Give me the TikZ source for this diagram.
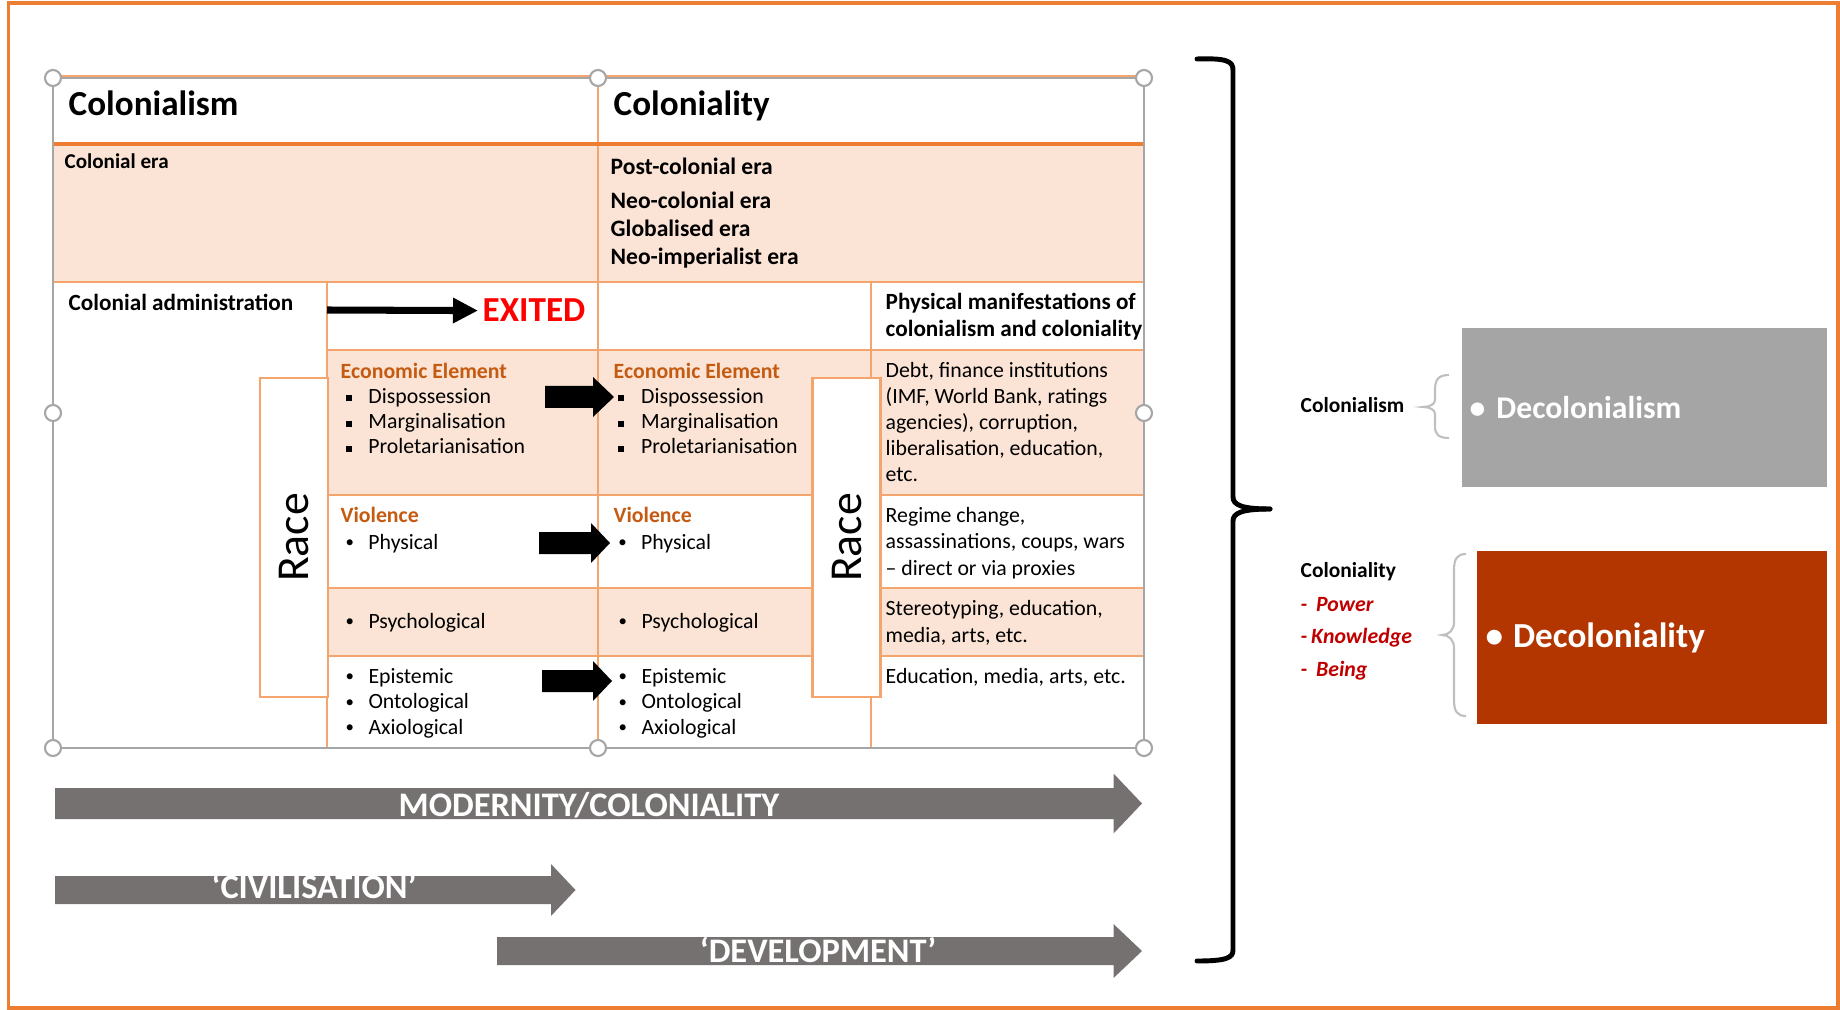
\documentclass[tikz,border=0pt]{standalone}
\usepackage{fontspec}
\setmainfont{Carlito}
\usepackage{tikz}
\usetikzlibrary{arrows.meta}
\definecolor{frameorange}{HTML}{ED7D31}
\definecolor{gridorange}{HTML}{F4A56E}
\definecolor{cellpeach}{HTML}{FBE4D5}
\definecolor{headorange}{HTML}{C55A11}
\definecolor{handlegray}{HTML}{A6A6A6}
\definecolor{arrowgray}{HTML}{767171}
\definecolor{boxgray}{HTML}{A5A5A5}
\definecolor{boxred}{HTML}{B33500}
\definecolor{exitred}{HTML}{FF0000}
\definecolor{axisred}{HTML}{C00000}
\definecolor{bracegray}{HTML}{BFBFBF}
\newcommand{\sqbul}{\makebox[6.5pt][l]{\rule[0.65pt]{1.7pt}{1.7pt}}}
\newcommand{\dotbul}{\makebox[6.5pt][l]{\raisebox{0.4pt}{\fontsize{4.8}{5}\selectfont\textbullet}}}

\begin{document}
\begin{tikzpicture}[x=0.1mm, y=-0.1mm,
  grid/.style={draw=gridorange, line width=0.6pt},
  handle/.style={circle, draw=handlegray, line width=0.6pt, fill=white, minimum size=1.6mm, inner sep=0pt},
  racebox/.style={draw=gridorange, line width=0.6pt, fill=white, rotate=90, minimum width=31.9mm, minimum height=6.8mm, inner sep=0pt, font=\fontsize{13}{15}\selectfont},
  hdr/.style={anchor=base west, inner sep=0pt, font=\fontsize{10}{12}\selectfont\bfseries},
  boldcell/.style={anchor=base west, inner sep=0pt, align=left, font=\fontsize{6.6}{7.7}\selectfont\bfseries},
  textcell/.style={anchor=base west, inner sep=0pt, align=left, font=\fontsize{6.2}{7.15}\selectfont},
  manifest/.style={anchor=base west, inner sep=0pt, align=left, font=\fontsize{6.2}{7.4}\selectfont},
  blockarrow/.style={fill=black},
  timearrow/.style={fill=arrowgray},
  timetext/.style={anchor=base, inner sep=0pt, text=white, font=\fontsize{9.8}{12}\selectfont\bfseries},
  bigbrace/.style={draw=black, line width=1.4pt, line cap=round},
  smallbrace/.style={draw=bracegray, line width=0.6pt},
  sidelabel/.style={anchor=base west, inner sep=0pt, font=\fontsize{6.1}{7}\selectfont\bfseries},
  decobox/.style={anchor=north west, align=left, text=white, font=\bfseries}]

  \useasboundingbox (0,0) rectangle (1840,1010);
  \draw[frameorange, line width=0.4mm] (8.5,3) rectangle (1838,1008);

  % Table shading
  \fill[cellpeach] (53,144) rectangle (1144,282);
  \fill[cellpeach] (327,350) rectangle (1144,495);
  \fill[cellpeach] (327,588) rectangle (1144,656);

  % Table grid
  \draw[grid] (53,76.5) rectangle (1144,748);
  \draw[grid] (598,78) -- (598,748);
  \draw[grid] (327,282) -- (327,748);
  \draw[grid] (871,282) -- (871,748);
  \draw[grid] (53,282) -- (1144,282);
  \foreach \y in {350,495,588,656}
    \draw[grid] (327,\y) -- (1144,\y);
  \draw[frameorange, line width=1pt] (53,144) -- (1144,144);
  \draw[handlegray, line width=0.5pt] (53,78) rectangle (1144,748);

  % Header and era rows (multi-line nodes sit on their last baseline)
  \node[hdr] (colonialism) at (68,115.5) {Colonialism};
  \node[hdr] (coloniality) at (613,115.5) {Coloniality};
  \node[boldcell, font=\fontsize{6}{7}\selectfont\bfseries] (colera) at (64,169) {Colonial era};
  \node[boldcell, font=\fontsize{6.7}{8}\selectfont\bfseries] (postera) at (610,265)
    {Post-colonial era\\[1.7pt] Neo-colonial era\\ Globalised era\\ Neo-imperialist era};

  % Administration row
  \node[boldcell] (admin) at (68,311) {Colonial administration};
  \node[anchor=base west, inner xsep=0.4mm, inner ysep=0pt, text=exitred, font=\fontsize{10}{12}\selectfont\bfseries] (exited) at (478,322) {EXITED};
  \coordinate (exitfrom) at (327,310);
  \draw[line width=2pt, -{Triangle[length=2.5mm, width=2.4mm]}] (exitfrom) -- (exited.west);
  \node[boldcell] (manifest) at (885,337) {Physical manifestations of\\ colonialism and coloniality};

  % Colonialism column
  \node[textcell] (econL) at (340,454)
    {\textcolor{headorange}{\bfseries Economic Element}\\ \hspace*{1.4pt}\sqbul Dispossession\\ \hspace*{1.4pt}\sqbul Marginalisation\\ \hspace*{1.4pt}\sqbul Proletarianisation};
  \node[textcell, font=\fontsize{6.2}{7.4}\selectfont] (violL) at (340,549)
    {\textcolor{headorange}{\bfseries Violence}\\ \hspace*{1.4pt}\dotbul Physical};
  \node[textcell] (psychL) at (345,628) {\dotbul Psychological};
  \node[textcell, font=\fontsize{6.2}{7.25}\selectfont] (epistL) at (345,734)
    {\dotbul Epistemic\\ \dotbul Ontological\\ \dotbul Axiological};

  % Coloniality column
  \node[textcell] (econR) at (613,454)
    {\textcolor{headorange}{\bfseries Economic Element}\\ \hspace*{1.3pt}\sqbul Dispossession\\ \hspace*{1.3pt}\sqbul Marginalisation\\ \hspace*{1.3pt}\sqbul Proletarianisation};
  \node[textcell, font=\fontsize{6.2}{7.4}\selectfont] (violR) at (613,549)
    {\textcolor{headorange}{\bfseries Violence}\\ \hspace*{1.3pt}\dotbul Physical};
  \node[textcell] (psychR) at (618,628) {\dotbul Psychological};
  \node[textcell, font=\fontsize{6.2}{7.25}\selectfont] (epistR) at (618,734)
    {\dotbul Epistemic\\ \dotbul Ontological\\ \dotbul Axiological};

  % Manifestations column
  \node[manifest] (debt) at (885,482)
    {Debt, finance institutions\\ (IMF, World Bank, ratings\\ agencies), corruption,\\ liberalisation, education,\\ etc.};
  \node[manifest] (regime) at (885,575)
    {Regime change,\\ assassinations, coups, wars\\ \textendash\ direct or via proxies};
  \node[manifest, font=\fontsize{6.2}{7.7}\selectfont] (stereo) at (885,642.5)
    {Stereotyping, education,\\ media, arts, etc.};
  \node[manifest] (educ) at (885,683.5) {Education, media, arts, etc.};

  % Race boxes
  \node[racebox] (raceL) at (294,537.5) {Race};
  \node[racebox] (raceR) at (846.5,537.5) {Race};

  % Block arrows between the columns
  \foreach \xa/\xb/\xc/\yc in {545/593/614/397, 539/591/610/543, 542/593/612/681}
    \fill[blockarrow] (\xa,\yc-11) -- (\xb,\yc-11) -- (\xb,\yc-20) -- (\xc,\yc)
      -- (\xb,\yc+20) -- (\xb,\yc+11) -- (\xa,\yc+11) -- cycle;

  % Handles
  \foreach \hx/\hy [count=\i] in {53/78, 598/78, 1144/78, 53/413, 1144/413, 53/748, 598/748, 1144/748}
    \node[handle] (hd\i) at (\hx,\hy) {};

  % Time arrows
  \foreach \xa/\xb/\xc/\yc/\sh/\hh in {55/1113.5/1142/803.5/15.5/30, 55/551/575.5/890/14/26, 497/1113.5/1142/951/14/27}
    \fill[timearrow] (\xa,\yc-\sh) -- (\xb,\yc-\sh) -- (\xb,\yc-\hh) -- (\xc,\yc)
      -- (\xb,\yc+\hh) -- (\xb,\yc+\sh) -- (\xa,\yc+\sh) -- cycle;
  \node[timetext] (modernity) at (589,816) {MODERNITY/COLONIALITY};
  \node[timetext] (civil) at (314,898) {`CIVILISATION'};
  \node[timetext] (develop) at (818,962) {`DEVELOPMENT'};

  % Big brace
  \draw[bigbrace] (1197,59) .. controls (1226,58) and (1233,61) .. (1233,70) -- (1233,497)
    .. controls (1233,505) and (1242,509) .. (1270,509);
  \draw[bigbrace] (1270,509) .. controls (1242,509) and (1233,513) .. (1233,521) -- (1233,950)
    .. controls (1233,958) and (1226,961) .. (1197,961);

  % Decolonialism
  \node[sidelabel] (lblism) at (1300,413) {Colonialism};
  \draw[smallbrace] (1449,375) .. controls (1438,375) and (1435,380) .. (1435,390) -- (1435,400)
    .. controls (1435,404) and (1430,407) .. (1423,407) .. controls (1430,407) and (1435,410) .. (1435,414)
    -- (1435,426) .. controls (1435,434) and (1438,438) .. (1449,438);
  \node[decobox, fill=boxgray, minimum height=15.9mm, inner xsep=0.8mm, text width=34.9mm,
    font=\fontsize{9}{11}\selectfont\bfseries] (decolonialism) at (1461,327.7)
    {\makebox[7.6pt][l]{\textbullet}Decolonialism};

  % Decoloniality
  \node[sidelabel] (lblity) at (1300,577) {Coloniality};
  \node[anchor=base west, inner sep=0pt, align=left, text=axisred, font=\fontsize{6.2}{9.25}\selectfont\bfseries\itshape] (axes) at (1300,676.5)
    {-\hspace{2.5pt}Power\\ -\hspace{1.1pt}Knowledge\\ -\hspace{2.5pt}Being};
  \draw[smallbrace] (1466,554) .. controls (1457,554) and (1454,559) .. (1454,570) -- (1454,622)
    .. controls (1454,630) and (1449,635) .. (1442,635) .. controls (1449,635) and (1454,640) .. (1454,648)
    -- (1454,700) .. controls (1454,711) and (1457,716) .. (1466,716);
  \node[decobox, fill=boxred, minimum height=17.26mm, inner xsep=0.83mm, text width=33.27mm,
    font=\fontsize{10}{12}\selectfont\bfseries] (decoloniality) at (1476.7,550.7)
    {\makebox[7.8pt][l]{\textbullet}Decoloniality};
\end{tikzpicture}
\end{document}
